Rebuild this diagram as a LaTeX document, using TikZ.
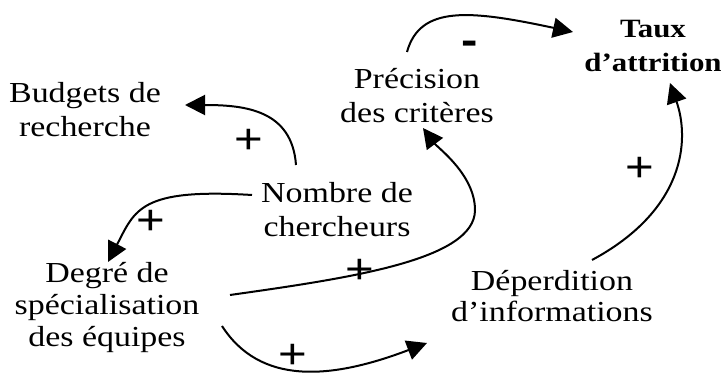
\documentclass[tikz,border=0pt]{standalone}
\usepackage{fontspec}
\setmainfont{Liberation Serif}[FakeStretch=1.17]
\newfontfamily\signfont{Liberation Sans}[FakeStretch=1.17]
\usetikzlibrary{arrows.meta}

\tikzset{
  var/.style={align=center, anchor=base, inner sep=0pt,
    font=\fontsize{14.5pt}{17pt}\selectfont},
  tight/.style={font=\fontsize{14.5pt}{16pt}\selectfont},
  sign/.style={inner sep=0pt, font=\signfont\fontsize{21pt}{21pt}\selectfont},
  link/.style={line width=1pt, -{Triangle[length=10pt,width=10pt]}},
}

\begin{document}
\begin{tikzpicture}[x=0.5pt, y=-0.5pt]
  \useasboundingbox (0,0) rectangle (725,374);

  % variables of the causal loop (placed on the baseline of their last line)
  \node[var] (budg)  at (85,137)  {Budgets de\\recherche};
  \node[var] (nomb)  at (337,237) {Nombre de\\chercheurs};
  \node[var, tight] (degre) at (107,347) {Degré de\\spécialisation\\des équipes};
  \node[var] (prec)  at (417,123) {Précision\\des critères};
  \node[var, font=\fontsize{13.2pt}{17pt}\selectfont\bfseries] (taux) at (653,72) {Taux\\d’attrition};
  \node[var, tight] (dep)   at (552,322) {Déperdition\\d’informations};

  % causal links
  \draw[link] ([shift={(-41,-72)}]nomb.base)
    .. controls (292,110) and (245,105) .. ([shift={(100,-32)}]budg.base);
  \draw[link] ([shift={(-85,-42)}]nomb.base)
    .. controls (140,188) and (135,210) .. ([shift={(1,-85)}]degre.base);
  \draw[link] ([shift={(123,-52)}]degre.base)
    .. controls (350,278) and (475,260) .. (475,210)
    .. controls (475,175) and (438,148) .. ([shift={(6,5)}]prec.base);
  \draw[link] ([shift={(115,-21)}]degre.base)
    .. controls (260,385) and (330,380) .. ([shift={(-125,21)}]dep.base);
  \draw[link] ([shift={(40,-62)}]dep.base)
    .. controls (685,210) and (690,140) .. ([shift={(17,11)}]taux.base);
  \draw[link] ([shift={(-10,-71)}]prec.base)
    .. controls (420,5) and (470,10) .. ([shift={(-80,-40)}]taux.base);

  % polarity signs
  \node[sign] (s1) at (249,141) {+};
  \node[sign] (s2) at (151,222) {+};
  \node[sign] (s3) at (360,271) {+};
  \node[sign] (s4) at (293,356) {+};
  \node[sign] (s5) at (640,169) {+};
  \node[sign, font=\signfont\bfseries\fontsize{21pt}{21pt}\selectfont] (s6) at (470,48) {-};
\end{tikzpicture}
\end{document}
